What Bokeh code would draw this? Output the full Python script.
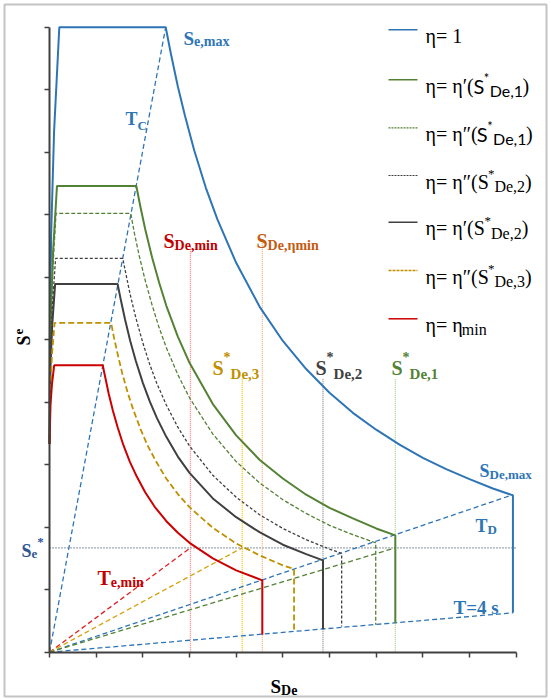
from bokeh.plotting import figure
from bokeh.models import Range1d, Label, FixedTicker, LinearAxis, CustomLabelingPolicy
from bokeh.embed import file_html
from bokeh.resources import INLINE

# ---------------- data ----------------
AXIS_TICKS = [0, 1, 2, 3, 4, 5, 6, 7, 8, 9, 10]

# eta = 1
ETA1_X = [0, 0.007, 0.035, 0.098, 0.21, 2.49, 2.6, 2.75, 2.9, 3.1, 3.35, 3.6, 4.0, 4.5, 5.0,
          5.5, 6.0, 6.5, 7.0, 7.5, 8.0, 8.5, 9.0, 9.5, 9.93, 9.93]
ETA1_Y = [3.33, 5.0, 6.67, 8.33, 10.0, 10.0, 9.58, 9.05, 8.59, 8.03, 7.43, 6.92, 6.23, 5.53, 4.98,
          4.53, 4.15, 3.83, 3.56, 3.32, 3.11, 2.93, 2.77, 2.62, 2.51, 0.63]
# eta = eta'(S*De,1)
ETAP1_X = [0, 0.006, 0.029, 0.078, 0.16, 1.86, 1.95, 2.05, 2.2, 2.35, 2.5, 2.75, 3.0, 3.5, 4.0,
           4.5, 5.0, 5.5, 6.0, 6.5, 7.0, 7.41, 7.41]
ETAP1_Y = [3.33, 4.36, 5.40, 6.43, 7.46, 7.46, 7.12, 6.77, 6.31, 5.91, 5.55, 5.05, 4.63, 3.97, 3.47,
           3.08, 2.78, 2.52, 2.31, 2.14, 1.98, 1.87, 0.47]
# eta = eta''(S*De,1)
ETAPP1_X = [0, 0.026, 0.068, 0.14, 1.74, 1.82, 1.92, 2.05, 2.2, 2.35, 2.5, 2.75, 3.0, 3.5, 4.0,
            4.5, 5.0, 5.5, 6.0, 6.5, 6.99, 6.99]
ETAPP1_Y = [3.33, 5.18, 6.10, 7.02, 7.02, 6.70, 6.35, 5.95, 5.55, 5.19, 4.88, 4.44, 4.07, 3.49, 3.05,
            2.71, 2.44, 2.22, 2.03, 1.88, 1.75, 0.44]
# eta = eta''(S*De,2)
ETAPP2_X = [0, 0.025, 0.064, 0.13, 1.57, 1.64, 1.73, 1.85, 2.0, 2.15, 2.3, 2.5, 2.75, 3.0, 3.5,
            4.0, 4.5, 5.0, 5.5, 6.0, 6.26, 6.26]
ETAPP2_Y = [3.33, 4.82, 5.56, 6.30, 6.30, 6.04, 5.72, 5.35, 4.95, 4.60, 4.30, 3.96, 3.60, 3.30, 2.83,
            2.48, 2.20, 1.98, 1.80, 1.65, 1.58, 0.41]
# eta = eta'(S*De,2)
ETAP2_X = [0, 0.023, 0.060, 0.12, 1.46, 1.53, 1.62, 1.73, 1.85, 2.0, 2.15, 2.3, 2.5, 2.75, 3.0,
           3.5, 4.0, 4.5, 5.0, 5.5, 5.86, 5.86]
ETAP2_Y = [3.33, 4.61, 5.25, 5.89, 5.89, 5.63, 5.32, 4.98, 4.66, 4.31, 4.01, 3.75, 3.45, 3.13, 2.87,
           2.46, 2.16, 1.92, 1.72, 1.57, 1.47, 0.37]
# eta = eta''(S*De,3)
ETAPP3_X = [0, 0.022, 0.056, 0.11, 1.32, 1.38, 1.46, 1.56, 1.68, 1.8, 1.95, 2.1, 2.3, 2.5, 2.75,
            3.0, 3.5, 4.0, 4.5, 5.0, 5.24, 5.24]
ETAPP3_Y = [3.33, 4.30, 4.79, 5.27, 5.27, 5.04, 4.77, 4.46, 4.14, 3.87, 3.57, 3.31, 3.03, 2.78, 2.53,
            2.32, 1.99, 1.74, 1.55, 1.39, 1.33, 0.33]
# eta = eta_min
ETAMIN_X = [0, 0.022, 0.052, 0.10, 1.14, 1.2, 1.27, 1.36, 1.46, 1.58, 1.72, 1.87, 2.05, 2.25, 2.5,
            2.75, 3.0, 3.5, 4.0, 4.56, 4.56]
ETAMIN_Y = [3.33, 3.96, 4.28, 4.59, 4.59, 4.38, 4.13, 3.86, 3.60, 3.32, 3.05, 2.81, 2.56, 2.33, 2.10,
            1.91, 1.75, 1.50, 1.31, 1.15, 0.28]

# period lines through the origin (end points)
TC_X, TC_Y = [0, 2.49], [0, 10.0]
TD_X, TD_Y = [0, 9.93], [0, 2.52]
T4_X, T4_Y = [0, 9.93], [0, 0.63]
TEMIN_X, TEMIN_Y = [0, 3.02], [0, 1.67]
RAY3_X, RAY3_Y = [0, 4.13], [0, 1.67]
RAY1_X, RAY1_Y = [0, 7.41], [0, 1.67]

# target acceleration and displacement markers
SE_STAR = 1.67
SE_STAR_X = [0, 10]
MARK_NAMES = ["SDe,min", "SDe,eta_min", "S*De,3", "S*De,2", "S*De,1"]
MARK_X = [3.02, 4.56, 4.13, 5.86, 7.41]
MARK_TOP = [6.50, 6.55, 4.38, 4.38, 4.38]

# ---------------- styles ----------------
BLUE = "#2e75b6"
GREEN = "#548235"
DARK = "#404040"
GOLD = "#bf9000"
RED = "#cc0000"
MARK_COLORS = ["#ff7c80", "#f4b183", "#ffc000", "#8c8c8c", "#a9d18e"]


# reference pixel -> data
def px2x(px):
    return (px - 49) / 46.67


def py2y(py):
    return (651.7 - py) / 62.5


p = figure(width=550, height=700,
           x_range=Range1d(px2x(0), px2x(550)), y_range=Range1d(py2y(700), py2y(0)),
           output_backend="svg", toolbar_location=None,
           x_axis_location=None, y_axis_location=None,
           min_border=0, min_border_left=0, min_border_right=0,
           min_border_top=0, min_border_bottom=0)
p.xgrid.visible = False
p.ygrid.visible = False
p.outline_line_color = None
p.background_fill_color = "white"
p.border_fill_color = "white"

NO_LABELS = CustomLabelingPolicy(code="""
try { return new indices.constructor(indices.size) } catch (e) { return indices }
""")
for side in ("below", "left"):
    ax = LinearAxis(fixed_location=0, bounds=(0, 10), ticker=FixedTicker(ticks=AXIS_TICKS),
                    major_label_policy=NO_LABELS)
    ax.major_label_standoff = 0
    ax.major_tick_out = 5
    ax.major_tick_in = 0
    ax.minor_tick_out = 0
    ax.minor_tick_in = 0
    ax.axis_line_color = DARK
    ax.axis_line_width = 2
    ax.major_tick_line_color = DARK
    ax.major_tick_line_width = 1.5
    p.add_layout(ax, side)

# picture border
p.quad(left=[px2x(4)], right=[px2x(546)], bottom=[py2y(696)], top=[py2y(4)],
       fill_color=None, line_color="#c4c4c4", line_width=2)

# marker lines
p.line(SE_STAR_X, [SE_STAR, SE_STAR], line_color="#44546a", line_width=1.2, line_dash="1 2")
for mx, mt, mc in zip(MARK_X, MARK_TOP, MARK_COLORS):
    p.line([mx, mx], [0, mt], line_color=mc, line_width=1.3, line_dash="1 1")

# period lines
for xs, ys, c in [(TC_X, TC_Y, BLUE), (TD_X, TD_Y, BLUE), (T4_X, T4_Y, BLUE),
                  (TEMIN_X, TEMIN_Y, "#e02020"), (RAY3_X, RAY3_Y, "#d4a20a"),
                  (RAY1_X, RAY1_Y, GREEN)]:
    p.line(xs, ys, line_color=c, line_width=1.3, line_dash="5 3")

# spectra
SERIES = [
    (ETA1_X, ETA1_Y, BLUE, 2.0, "solid"),
    (ETAP1_X, ETAP1_Y, GREEN, 2.0, "solid"),
    (ETAPP1_X, ETAPP1_Y, GREEN, 1.3, "4 2"),
    (ETAPP2_X, ETAPP2_Y, DARK, 1.3, "3 2"),
    (ETAP2_X, ETAP2_Y, DARK, 2.0, "solid"),
    (ETAPP3_X, ETAPP3_Y, GOLD, 1.8, "6 3"),
    (ETAMIN_X, ETAMIN_Y, RED, 2.0, "solid"),
]
for xs, ys, c, w, d in SERIES:
    p.line(xs, ys, line_color=c, line_width=w, line_dash=d)

# ---------------- text helpers ----------------
W_REG = {' ': .25, '(': .333, ')': .333, '*': .5, ',': .25, '1': .5, '2': .5, '3': .5, '4': .5,
         '=': .564, 'D': .722, 'S': .556, 'T': .611, 'C': .667, 'e': .444, 'm': .778, 'i': .278,
         'n': .5, 's': .389, 'a': .444, 'x': .5, 'η': .5, '′': .25, '″': .42}
W_BOLD = {' ': .25, '*': .5, ',': .25, '1': .5, '2': .5, '3': .5, '4': .5, '=': .57, 'D': .722,
          'S': .556, 'T': .667, 'C': .722, 'e': .444, 'm': .833, 'i': .278, 'n': .556, 's': .389,
          'a': .5, 'x': .5, 'η': .556}
W_SANS = {'S': .52, '*': .45, 'D': .72, 'e': .53, ',': .22, '1': .58}


def tw(s, size, table):
    return sum(table.get(ch, 0.5) for ch in s) * size


def rich(px, py, pieces, color, size, small, bold=False, sub_dy=None, sup_dy=None, sup_size=None):
    sub_dy = 0.22 * size if sub_dy is None else sub_dy
    sup_dy = -0.42 * size if sup_dy is None else sup_dy
    sup_size = small if sup_size is None else sup_size
    cx = px
    for piece in pieces:
        txt, kind = piece[0], piece[1]
        sans = len(piece) > 2 and piece[2]
        sz = {"n": size, "sub": small, "sup": sup_size}[kind]
        dy = {"n": 0, "sub": sub_dy, "sup": sup_dy}[kind]
        font = "Lato" if sans else "Liberation Serif"
        table = W_SANS if sans else (W_BOLD if bold else W_REG)
        p.add_layout(Label(x=px2x(cx), y=py2y(py + dy), text=txt, text_color=color,
                           text_font=font, text_font_size=f"{sz}px",
                           text_font_style="bold" if bold else "normal",
                           text_align="left", text_baseline="alphabetic"))
        cx += tw(txt, sz, table)


# annotations
rich(183, 38, [("S", "n"), ("e,max", "sub")], BLUE, 19, 14, True, sub_dy=3)
rich(125, 118, [("T", "n"), ("C", "sub")], BLUE, 18, 13, True, sub_dy=7)
rich(163, 240, [("S", "n"), ("De,min", "sub")], "#c00000", 20, 14, True, sub_dy=5)
rich(256, 240, [("S", "n"), ("De,ηmin", "sub")], "#c55a11", 20, 14, True, sub_dy=5)
rich(212, 367, [("S", "n"), ("*", "sup"), ("De,3", "sub")], GOLD, 20, 15, True, sub_dy=6, sup_dy=-10, sup_size=14)
rich(315, 367, [("S", "n"), ("*", "sup"), ("De,2", "sub")], DARK, 20, 15, True, sub_dy=6, sup_dy=-10, sup_size=14)
rich(391, 367, [("S", "n"), ("*", "sup"), ("De,1", "sub")], GREEN, 20, 15, True, sub_dy=6, sup_dy=-10, sup_size=14)
rich(479, 470, [("S", "n"), ("De,max", "sub")], BLUE, 18, 13, True, sub_dy=4)
rich(475, 525, [("T", "n"), ("D", "sub")], BLUE, 18, 13, True, sub_dy=4)
rich(453, 607, [("T=4 s", "n")], BLUE, 19, 13, True)
rich(97, 577, [("T", "n"), ("e,min", "sub")], "#c00000", 20, 14, True, sub_dy=5)
rich(21, 550, [("S", "n"), ("e", "sub"), ("*", "sup")], "#2f5597", 18, 13, True, sub_dy=3, sup_dy=-9)
rich(270, 686, [("S", "n"), ("De", "sub")], "black", 19, 14, True, sub_dy=4)

# vertical axis label
p.add_layout(Label(x=px2x(23), y=py2y(345), text="S", angle=1.5708, text_color="black",
                   text_font="Liberation Serif", text_font_size="18px", text_font_style="bold",
                   text_align="left", text_baseline="alphabetic"))
p.add_layout(Label(x=px2x(18), y=py2y(334), text="e", angle=1.5708, text_color="black",
                   text_font="Liberation Serif", text_font_size="13px", text_font_style="bold",
                   text_align="left", text_baseline="alphabetic"))

# legend
LEG_ROWS_Y = [29.3, 79.3, 127.3, 175, 221.7, 270, 318.3]
LEG_STYLE = [(BLUE, 1.5, "solid"), (GREEN, 1.5, "solid"), (GREEN, 1.2, "2 1"),
             (DARK, 1.2, "2 1"), (DARK, 1.5, "solid"), (GOLD, 1.3, "3 1"), (RED, 1.5, "solid")]
LEG_TEXT = [
    [("η= 1", "n")],
    [("η= η′(", "n"), ("S", "n", True), ("*", "sup", True), ("De,1", "sub", True), (")", "n")],
    [("η= η″(", "n"), ("S", "n", True), ("*", "sup", True), ("De,1", "sub", True), (")", "n")],
    [("η= η″(S", "n"), ("*", "sup"), ("De,2", "sub"), (")", "n")],
    [("η= η′(S", "n"), ("*", "sup"), ("De,2", "sub"), (")", "n")],
    [("η= η″(S", "n"), ("*", "sup"), ("De,3", "sub"), (")", "n")],
    [("η= η", "n"), ("min", "sub")],
]
for ry, (c, w, d), pieces in zip(LEG_ROWS_Y, LEG_STYLE, LEG_TEXT):
    p.line([px2x(388), px2x(417)], [py2y(ry), py2y(ry)], line_color=c, line_width=w, line_dash=d)
    rich(425, ry + 6, pieces, "black", 20, 16, False, sub_dy=5, sup_dy=-8, sup_size=13)

open("out.html", "w").write(file_html(p, INLINE))
